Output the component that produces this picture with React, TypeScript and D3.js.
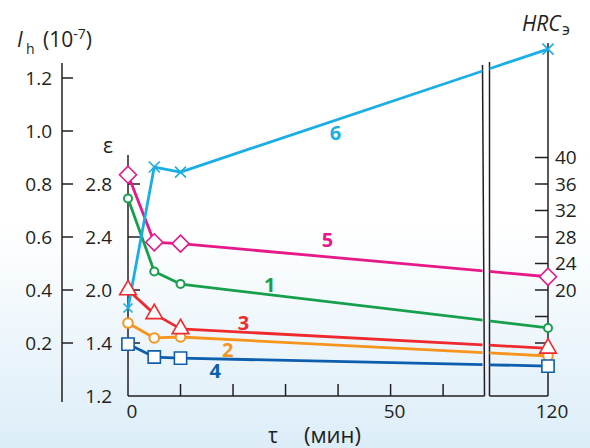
import React from 'react';
import * as d3 from 'd3';

// ---- data ----
const tau = [0, 5, 10, 120];
const curve1 = [2.69, 2.14, 2.045, 1.57]; // ε
const curve2 = [1.626, 1.457, 1.468, 1.351];
const curve3 = [2.0, 1.73, 1.56, 1.38];
const curve4 = [1.396, 1.347, 1.343, 1.313];
const curve5 = [2.87, 2.36, 2.35, 2.1];
const curve6 = [0.332, 0.864, 0.845, 1.309]; // Ih (10^-7)

const ihTicks = [0.2, 0.4, 0.6, 0.8, 1.0, 1.2];
const epsTickValues = [1.2, 1.4, 2.0, 2.4, 2.8];
const epsTickLabels = ['1.2', '1.4', '2.0', '2.4', '2.8'];
const epsTickIh = [0, 0.2, 0.4, 0.6, 0.8];
const hrcTicks = [12, 16, 20, 24, 28, 32, 36, 40];
const hrcLabels = [20, 24, 28, 32, 36, 40];
const tauTicks = [10, 20, 30, 40, 50, 60];
const tauLabels = [0, 50, 120];
const breakTau = 67.5;

const curveLabels = [
  { text: '6', t: 39.5, v: 0.993, axis: 'ih' },
  { text: '5', t: 38, v: 2.38, axis: 'eps' },
  { text: '1', t: 27, v: 2.04, axis: 'eps' },
  { text: '3', t: 22, v: 1.63, axis: 'eps' },
  { text: '2', t: 19, v: 1.374, axis: 'eps' },
  { text: '4', t: 16.6, v: 1.294, axis: 'eps' },
];

const C = {
  cyan: '#19aee6',
  magenta: '#e6188a',
  green: '#17a04c',
  red: '#ee2a2e',
  orange: '#f7941d',
  blue: '#0d5ead',
  ink: '#231f20',
};

const FONT = '"Open Sans", "Noto Sans", sans-serif';

export default function App() {
  const W = 590, H = 448;
  const x = d3.scaleLinear().domain([0, breakTau, 120]).range([128, 482.5, 548]);
  const ih = d3.scaleLinear().domain([0, 1.2]).range([396, 78]);
  const eps = d3.scaleLinear().domain(epsTickValues).range(epsTickIh.map((v) => ih(v)));
  const hrc = d3.scaleLinear().domain([12, 36]).range([ih(0.2), ih(0.8)]);
  const gap = 7;
  const xb = x(breakTau);

  const lineEps = d3.line<number>().x((_, i) => x(tau[i])).y((d) => eps(d));
  const lineIh = d3.line<number>().x((_, i) => x(tau[i])).y((d) => ih(d));

  const tri = d3.symbol(d3.symbolTriangle, 120)() as string;
  const sq = d3.symbol(d3.symbolSquare, 150)() as string;
  const dia = 'M0,-8.5L8.5,0L0,8.5L-8.5,0Z';

  const series = [
    { vals: curve1, color: C.green, marker: 'circle', r: 4 },
    { vals: curve2, color: C.orange, marker: 'circle', r: 4.8 },
    { vals: curve4, color: C.blue, marker: 'square' },
    { vals: curve3, color: C.red, marker: 'tri' },
    { vals: curve5, color: C.magenta, marker: 'dia' },
  ];

  const marker = (m: string, color: string, cx: number, cy: number, key: string, r = 4) => {
    if (m === 'circle')
      return <circle key={key} cx={cx} cy={cy} r={r} fill="#fff" stroke={color} strokeWidth={2} />;
    if (m === 'tri')
      return <path key={key} d={tri} transform={`translate(${cx},${cy})`} fill="#fff" stroke={color} strokeWidth={1.6} />;
    if (m === 'square')
      return <path key={key} d={sq} transform={`translate(${cx},${cy})`} fill="#fff" stroke={color} strokeWidth={1.6} />;
    if (m === 'dia')
      return <path key={key} d={dia} transform={`translate(${cx},${cy})`} fill="#fff" stroke={color} strokeWidth={1.6} />;
    return null;
  };

  const cross = (cx: number, cy: number, key: string, s = 5.5) => (
    <path key={key} d={`M${cx - s},${cy - s}L${cx + s},${cy + s}M${cx - s},${cy + s}L${cx + s},${cy - s}`} stroke={C.cyan} strokeWidth={1.6} />
  );

  const y0 = ih(0);

  return (
    <svg width={W} height={H} style={{ position: 'absolute', left: 0, top: 0 }} fontFamily={FONT}>
      <defs>
        <linearGradient id="bg" x1="0" y1="0" x2="0" y2="1">
          <stop offset="0" stopColor="#ffffff" />
          <stop offset="0.5" stopColor="#ffffff" />
          <stop offset="1" stopColor="#dcedf8" />
        </linearGradient>
        <clipPath id="clipL">
          <rect x={0} y={0} width={xb} height={H} />
        </clipPath>
        <clipPath id="clipR">
          <rect x={xb + gap} y={0} width={W - xb - gap} height={H} />
        </clipPath>
      </defs>
      <rect x={0} y={0} width={W} height={H} fill="url(#bg)" />

      {/* Ih axis */}
      <line x1={62} x2={62} y1={63} y2={402} stroke={C.ink} strokeWidth={1.5} />
      {ihTicks.map((t) => (
        <g key={'ih' + t}>
          <line x1={62} x2={73} y1={ih(t)} y2={ih(t)} stroke={C.ink} strokeWidth={1.5} />
          <text x={52} y={ih(t)} dy="0.36em" textAnchor="end" fontSize={19} fill={C.ink}>{t.toFixed(1)}</text>
        </g>
      ))}
      <text x={17} y={47} fontSize={21} fontStyle="italic" fill={C.ink}>I</text>
      <text x={26} y={54} fontSize={14} fill={C.ink}>h</text>
      <text x={43} y={47} fontSize={21} fill={C.ink}>
        (10<tspan dy={-8} fontSize={14}>-7</tspan><tspan dy={8}>)</tspan>
      </text>

      {/* ε axis */}
      <line x1={128} x2={128} y1={155} y2={y0} stroke={C.ink} strokeWidth={1.5} />
      {epsTickValues.map((v, i) => (
        <g key={'e' + v}>
          {i > 0 && <line x1={128} x2={140} y1={eps(v)} y2={eps(v)} stroke={C.ink} strokeWidth={1.5} />}
          <text x={112} y={eps(v)} dy="0.36em" textAnchor="end" fontSize={19} fill={C.ink}>{epsTickLabels[i]}</text>
        </g>
      ))}
      <text x={103} y={153} fontSize={21} fill={C.ink}>ε</text>

      {/* x axis */}
      <line x1={128} x2={xb + 2} y1={y0} y2={y0} stroke={C.ink} strokeWidth={1.5} />
      <line x1={xb + gap} x2={548} y1={y0} y2={y0} stroke={C.ink} strokeWidth={1.5} />
      {tauTicks.map((t) => (
        <line key={'xt' + t} x1={x(t)} x2={x(t)} y1={y0} y2={y0 - 12} stroke={C.ink} strokeWidth={1.5} />
      ))}
      {tauLabels.map((t) => (
        <text key={'xl' + t} x={x(t) + 4} y={418} textAnchor="middle" fontSize={19} fill={C.ink}>{t}</text>
      ))}
      <text x={268} y={443} fontSize={21} fill={C.ink}>τ</text>
      <text x={304} y={443} fontSize={22} fill={C.ink}>(мин)</text>

      {/* break */}
      <line x1={xb} x2={xb + 2} y1={65} y2={y0} stroke={C.ink} strokeWidth={1.5} />
      <line x1={xb + gap} x2={xb + gap} y1={62} y2={y0} stroke={C.ink} strokeWidth={1.5} />

      {/* HRC axis */}
      <line x1={548} x2={548} y1={43} y2={y0} stroke={C.ink} strokeWidth={1.5} />
      {hrcTicks.map((t) => (
        <line key={'h' + t} x1={535} x2={548} y1={hrc(t)} y2={hrc(t)} stroke={C.ink} strokeWidth={1.5} />
      ))}
      {hrcLabels.map((t) => (
        <text key={'hl' + t} x={555} y={hrc(t)} dy="0.36em" fontSize={19} fill={C.ink}>{t}</text>
      ))}
      <text x={522} y={31} fontSize={21} fontStyle="italic" fill={C.ink}>HRC</text>
      <text x={562} y={35} fontSize={16} fill={C.ink}>э</text>

      {/* curves */}
      {['clipL', 'clipR'].map((cp) => (
        <g key={cp} clipPath={`url(#${cp})`}>
          {series.map((s, i) => (
            <path key={i} d={lineEps(s.vals) as string} fill="none" stroke={s.color} strokeWidth={2.8} strokeLinejoin="round" />
          ))}
          <path d={lineIh(curve6) as string} fill="none" stroke={C.cyan} strokeWidth={2.8} strokeLinejoin="round" />
        </g>
      ))}
      {series.map((s, i) =>
        s.vals.map((v, j) => marker(s.marker, s.color, x(tau[j]), eps(v), `m${i}-${j}`, (s as any).r))
      )}
      {curve6.map((v, j) => cross(x(tau[j]), ih(v), 'c' + j, j === 0 ? 4.5 : 5.5))}

      {/* curve labels */}
      {curveLabels.map((l) => {
        const colors: Record<string, string> = { '1': C.green, '2': C.orange, '3': C.red, '4': C.blue, '5': C.magenta, '6': C.cyan };
        const yy = l.axis === 'ih' ? ih(l.v) : eps(l.v);
        return (
          <text key={l.text} x={x(l.t)} y={yy} dy="0.36em" textAnchor="middle" fontSize={20} fontWeight="bold" fill={colors[l.text]}>
            {l.text}
          </text>
        );
      })}
    </svg>
  );
}
